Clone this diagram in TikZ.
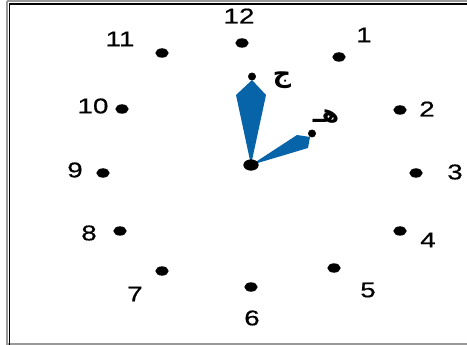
\documentclass[tikz,border=0pt]{standalone}
\usepackage{fontspec}
\setmainfont{Liberation Sans}
\newfontfamily\numfont[FakeStretch=1.3,FakeBold=0.6]{Liberation Sans}
\newfontfamily\arabicfont[Script=Arabic]{DejaVu Sans}
\TeXXeTstate=1
\usetikzlibrary{shapes.geometric}
\definecolor{handblue}{RGB}{8,100,168}

\newcommand*{\picwd}{467}
\newcommand*{\picht}{345}

\begin{document}
\begin{tikzpicture}
[
	x=0.75pt, y=-0.75pt,
	hourdot/.style={ellipse,draw,fill,inner sep=0pt,minimum width=9.5pt,minimum height=6.5pt},
	tipdot/.style={circle,draw,fill,inner sep=0pt,minimum size=5.5pt},
	numlabel/.style={inner sep=0pt,font=\numfont\fontsize{16}{18}\selectfont},
	handletter/.style={inner sep=0pt,font=\arabicfont\bfseries\fontsize{19}{21}\selectfont}
]
	\useasboundingbox (0,0) rectangle (\picwd,\picht);

	% frame
	\draw[gray!80, line width=1.5pt] (7,1.5) -- (7,343.5) -- (480,343.5);
	\draw[gray!80, line width=1.5pt] (7,1.5) -- (480,1.5);
	\draw[black, line width=0.9pt] (9.5,345) -- (9.5,4) -- (480,4);

	% clock face
	\node[hourdot] (d12) at (242,43) {};
	\node[hourdot] (d1) at (339,57) {};
	\node[hourdot] (d2) at (400,110) {};
	\node[hourdot] (d3) at (416,173) {};
	\node[hourdot] (d4) at (400,231) {};
	\node[hourdot] (d5) at (334,268) {};
	\node[hourdot] (d6) at (251,287) {};
	\node[hourdot] (d7) at (162,271) {};
	\node[hourdot] (d8) at (120,231) {};
	\node[hourdot] (d9) at (103,173) {};
	\node[hourdot] (d10) at (122,109) {};
	\node[hourdot] (d11) at (162,53) {};

	\node[numlabel] (n12) at (239,16) {12};
	\node[numlabel] (n1) at (364,35) {1};
	\node[numlabel] (n2) at (427,109) {2};
	\node[numlabel] (n3) at (455,172) {3};
	\node[numlabel] (n4) at (428,240) {4};
	\node[numlabel] (n5) at (368,290) {5};
	\node[numlabel] (n6) at (252,318) {6};
	\node[numlabel] (n7) at (135,294) {7};
	\node[numlabel] (n8) at (89,233) {8};
	\node[numlabel] (n9) at (75,170) {9};
	\node[numlabel] (n10) at (93,106) {10};
	\node[numlabel] (n11) at (120,39) {11};

	% hands
	\coordinate (c) at (251,165);
	\node[tipdot] (tm) at (252,76.5) {};
	\node[tipdot] (th) at (312,133.5) {};
	\fill[handblue] (c) -- (236,95) -- (252,80) -- (266,95) -- cycle;
	\fill[handblue] (c) -- (297,135) -- (310,137) -- (308,148) -- cycle;
	\node[hourdot, minimum width=11pt, minimum height=8pt] (hub) at (c) {};

	\node[handletter] (lm) at (282,80) {\beginR ج\endR};
	\node[handletter] (lh) at (326,117) {\beginR هـ\endR};

\end{tikzpicture}
\end{document}
